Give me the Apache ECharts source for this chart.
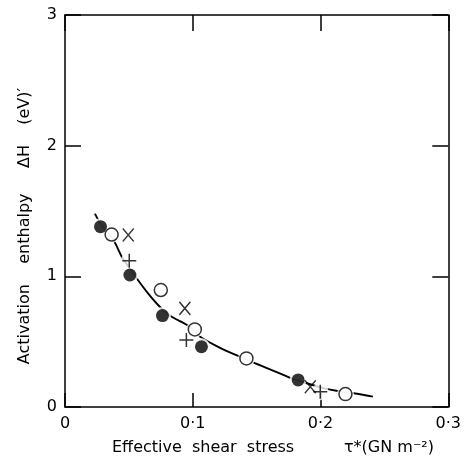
<!DOCTYPE html>
<html>
<head>
<meta charset="utf-8">
<script src="https://cdn.jsdelivr.net/npm/echarts@6/dist/echarts.min.js"></script>
<style>
html,body{margin:0;padding:0;background:#fff;}
#chart{width:464px;height:458px;}
</style>
</head>
<body>
<div id="chart"></div>
<script>
// Data
var filledPoints = [[0.0278,1.38],[0.0508,1.01],[0.0763,0.70],[0.1068,0.461],[0.1825,0.207]];
var openPoints = [[0.0365,1.32],[0.075,0.895],[0.1016,0.594],[0.142,0.372],[0.2195,0.099]];
var crossXPoints = [[0.0495,1.316],[0.0938,0.755],[0.192,0.155]];
var plusPoints = [[0.0503,1.12],[0.095,0.513],[0.1998,0.117]];
var curvePoints = [[0.0234,1.48],[0.028,1.40],[0.0378,1.28],[0.045,1.14],[0.0508,1.06],[0.0565,0.98],[0.065,0.87],[0.0742,0.767],[0.082,0.70],[0.0977,0.614],[0.1055,0.54],[0.121,0.455],[0.137,0.385],[0.1458,0.347],[0.16,0.29],[0.1758,0.225],[0.185,0.195],[0.203,0.143],[0.2135,0.122],[0.226,0.105],[0.241,0.079]];
var xTickLabels = {'0':'0','0.1':'0·1','0.2':'0·2','0.3':'0·3'};
var yTickLabels = ['0','1','2','3'];
var xTitleA = 'Effective  shear  stress';
var xTitleB = 'τ*(GN m⁻²)';
var yTitle = 'Activation    enthalpy     ΔH    (eV)′';

var FONT = 'DejaVu Sans';
var chart = echarts.init(document.getElementById('chart'), null, {renderer:'canvas'});
var axisLine = {show:true, onZero:false, lineStyle:{color:'#000', width:1.5}};
var tick = {show:true, inside:true, length:16, lineStyle:{color:'#000', width:1.5}};
var allPts = filledPoints.concat(openPoints);
var option = {
  backgroundColor:'#fff',
  animation:false,
  grid:{left:65, right:14, top:15, bottom:51, containLabel:false},
  xAxis:[{
    type:'value', min:0, max:0.3, interval:0.1, position:'bottom',
    axisLine:axisLine, splitLine:{show:false},
    axisTick:{show:true, inside:true, length:14, lineStyle:{color:'#000', width:1.5}},
    axisLabel:{color:'#000', fontFamily:FONT, fontSize:16, margin:9,
      formatter:function(v){var k=(Math.round(v*10)/10).toString(); return xTickLabels[k]!==undefined?xTickLabels[k]:'';}}
  },{
    type:'value', min:0, max:0.3, interval:0.1, position:'top',
    axisLine:axisLine, splitLine:{show:false}, axisLabel:{show:false},
    axisTick:tick
  }],
  yAxis:[{
    type:'value', min:0, max:3, interval:1, position:'left',
    axisLine:axisLine, splitLine:{show:false},
    axisTick:tick,
    axisLabel:{color:'#000', fontFamily:FONT, fontSize:16, margin:8,
      formatter:function(v){return yTickLabels[Math.round(v)];}}
  },{
    type:'value', min:0, max:3, interval:1, position:'right',
    axisLine:axisLine, splitLine:{show:false}, axisLabel:{show:false},
    axisTick:tick
  }],
  graphic:[
    {type:'text', left:112, top:440, style:{text:xTitleA, fill:'#000', font:'16px "DejaVu Sans"'}},
    {type:'text', right:30, top:440, style:{text:xTitleB, fill:'#000', font:'16px "DejaVu Sans"'}},
    {type:'text', x:25, y:226, rotation:Math.PI/2,
      style:{text:yTitle, fill:'#000', font:'16px "DejaVu Sans"', align:'center', verticalAlign:'middle'}}
  ],
  series:[
    {type:'line', data:curvePoints, smooth:0.3, showSymbol:false, symbol:'none', z:1,
      lineStyle:{color:'#000', width:1.9}},
    {type:'scatter', data:allPts.concat(plusPoints), symbol:'circle', symbolSize:17, z:2,
      itemStyle:{color:'#fff'}},
    {type:'scatter', data:filledPoints, symbol:'circle', symbolSize:13, z:3,
      itemStyle:{color:'#000'}},
    {type:'scatter', data:openPoints, symbol:'circle', symbolSize:13, z:3,
      itemStyle:{color:'#fff', borderColor:'#000', borderWidth:1.5}},
    {type:'scatter', data:crossXPoints, symbol:'path://M0,0L10,12M10,0L0,12', symbolSize:[11,13], z:3,
      itemStyle:{color:'none', borderColor:'#000', borderWidth:1.5}},
    {type:'scatter', data:plusPoints, symbol:'path://M6,0L6,12M0,6L12,6', symbolSize:[14,14], z:3,
      itemStyle:{color:'none', borderColor:'#000', borderWidth:1.5}}
  ]
};
chart.setOption(option);
</script>
</body>
</html>
